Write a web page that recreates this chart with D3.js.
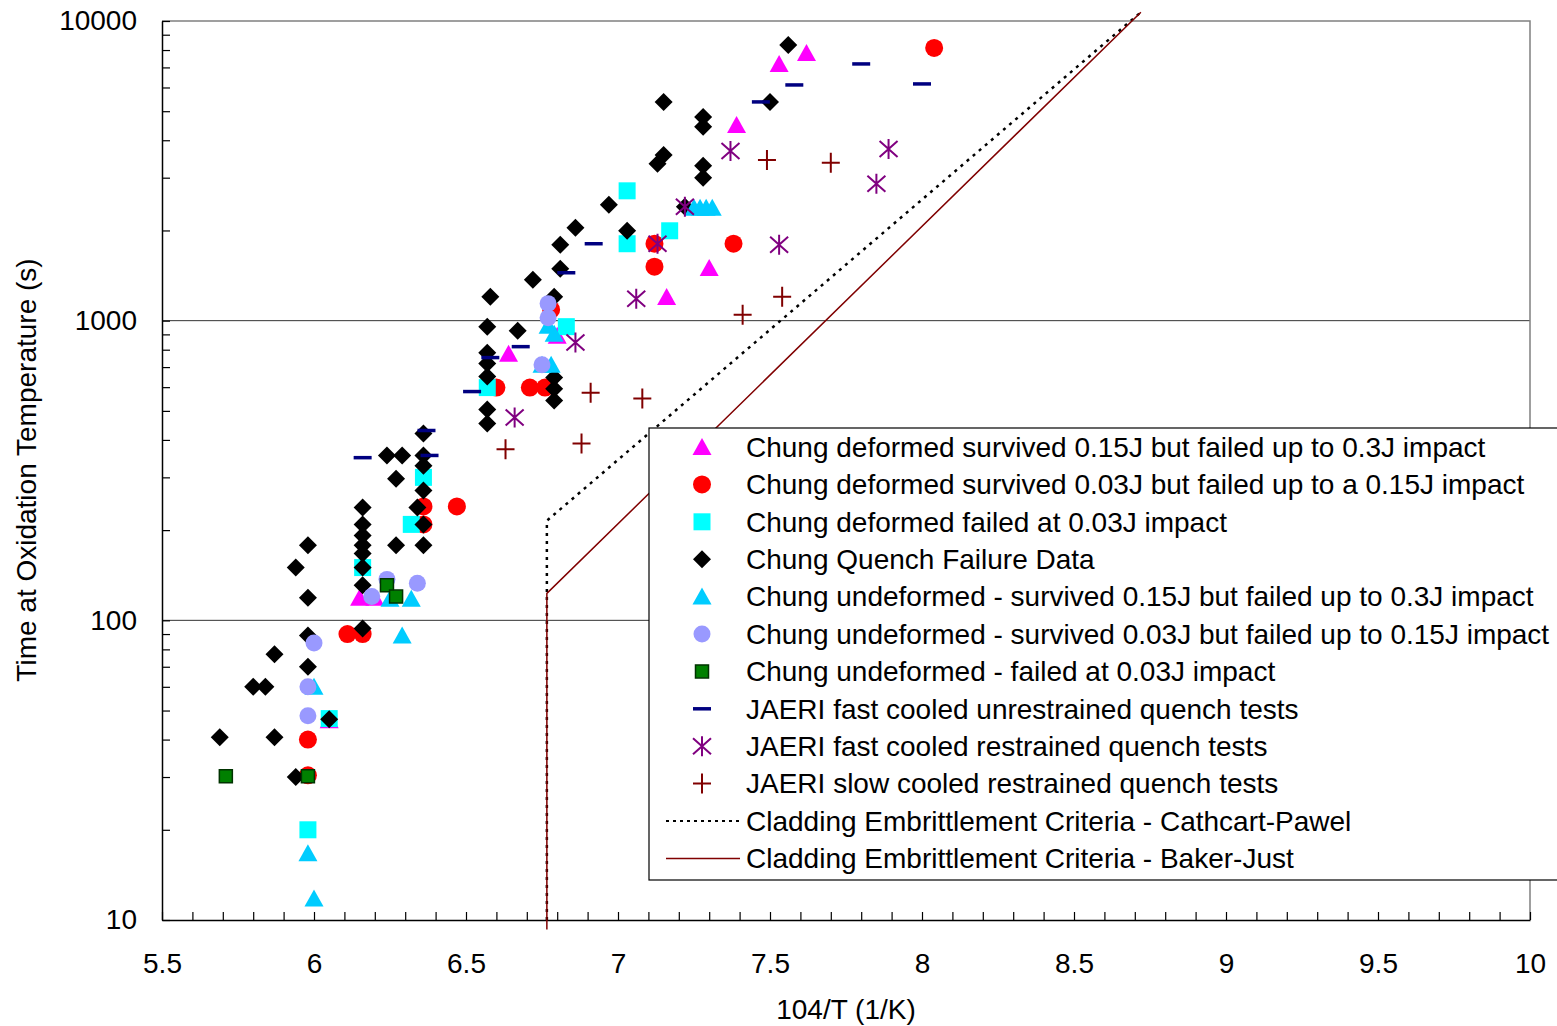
<!DOCTYPE html>
<html>
<head>
<meta charset="utf-8">
<script src="https://cdn.jsdelivr.net/npm/d3@7"></script>
<style>
  html, body { margin: 0; padding: 0; background: #fff; }
  svg text { font-family: "Liberation Sans", Arial, sans-serif; fill: #000; }
</style>
</head>
<body>
<div id="chart"></div>
<script>
// data: [10^4/T, time (s)]
const deformed015 = [[7.53, 7190], [7.62, 7820], [7.39, 4500], [7.30, 1500], [7.16, 1200], [6.64, 776],
  [6.80, 890], [6.15, 119], [6.20, 119], [6.05, 46.4]];
const deformed003 = [[8.04, 8130], [7.38, 1806], [7.12, 1806], [7.12, 1514], [6.78, 1088], [6.60, 598],
  [6.71, 598], [6.76, 598], [6.47, 240], [6.36, 240], [6.36, 209], [6.11, 90], [6.16, 90], [5.98, 40], [5.98, 30.4]];
const deformedFailed = [[7.03, 2712], [7.03, 1806], [7.17, 1995], [6.83, 955], [6.57, 598], [6.36, 300],
  [6.32, 209], [6.16, 150], [6.05, 47], [5.98, 20]];
const quenchFailure = [[7.56, 8318], [7.50, 5370], [7.15, 5370], [7.28, 4786], [7.28, 4434], [7.15, 3573],
  [7.13, 3338], [7.28, 3288], [7.28, 2998], [6.97, 2436], [7.03, 1995], [6.86, 2042], [6.81, 1792],
  [6.81, 1490], [6.72, 1370], [7.22, 2400], [6.58, 1202], [6.79, 1202], [6.57, 955], [6.67, 926],
  [6.57, 782], [6.57, 719], [6.57, 651], [6.57, 505], [6.57, 454], [6.79, 646], [6.79, 593], [6.79, 541],
  [6.36, 420], [6.24, 355], [6.29, 355], [6.36, 355], [6.36, 328], [6.27, 297], [6.36, 271], [6.34, 238],
  [6.36, 209], [6.16, 238], [6.16, 209], [6.16, 192], [6.16, 178], [6.16, 167], [6.16, 150], [6.16, 131],
  [6.27, 178], [6.36, 178], [5.98, 178], [5.94, 150], [5.98, 119], [6.16, 94], [5.98, 89], [5.87, 77],
  [5.98, 70], [5.80, 60], [5.84, 60], [6.05, 46.8], [5.69, 40.7], [5.87, 40.7], [5.94, 30]];
const undeformed015 = [[7.25, 2380], [7.27, 2380], [7.29, 2380], [7.31, 2380], [6.79, 905], [6.77, 962],
  [6.75, 713], [6.78, 713], [6.25, 118], [6.32, 118], [6.29, 89], [6.00, 60], [5.98, 16.7], [6.00, 11.8]];
const undeformed003 = [[6.77, 1140], [6.77, 1023], [6.75, 713], [6.24, 137], [6.34, 133], [6.19, 120],
  [6.00, 84], [5.98, 60], [5.98, 48]];
const undeformedFailed = [[6.24, 131], [6.27, 120], [5.71, 30.2], [5.98, 30.2]];
const jaeriFastUnrestrained = [[7.80, 7190], [8.00, 6166], [7.58, 6118], [7.47, 5370], [6.92, 1806],
  [6.83, 1445], [6.68, 819], [6.58, 753], [6.52, 580], [6.37, 430], [6.38, 355], [6.16, 349]];
const jaeriFastRestrained = [[7.89, 3743], [7.85, 2863], [7.37, 3686], [7.53, 1793], [7.22, 2400],
  [7.13, 1806], [7.06, 1184], [6.86, 845], [6.66, 475]];
const jaeriSlowRestrained = [[7.49, 3440], [7.70, 3364], [7.54, 1202], [7.41, 1047], [7.08, 550],
  [6.91, 575], [6.88, 389], [6.63, 372]];
const cathcartPawel = [[6.766, 10], [6.766, 215], [8.72, 10700]];
const bakerJust = [[6.766, 9.3], [6.766, 123], [8.72, 10700]];

const xTicks = d3.range(55, 101).map(d => d / 10);
const xLabels = [5.5, 6, 6.5, 7, 7.5, 8, 8.5, 9, 9.5, 10];
const yLabels = [10, 100, 1000, 10000];
const gridValues = [100, 1000];

// marker shapes
const shapes = {
  triangle: "M0,-9L9.5,8L-9.5,8Z",
  circle: d3.symbol(d3.symbolCircle, Math.PI * 81)(),
  smallCircle: d3.symbol(d3.symbolCircle, Math.PI * 72)(),
  square: "M-8.5,-8.5H8.5V8.5H-8.5Z",
  diamond: "M0,-9L9,0L0,9L-9,0Z",
  smallSquare: "M-6.5,-6.5H6.5V6.5H-6.5Z",
  dash: "M-9,0H9",
  asterisk: "M0,-10V10M-9,-8L9,8M-9,8L9,-8",
  plus: "M-9,0H9M0,-10V10"
};

const series = [
  { name: "Chung deformed survived 0.15J but failed up to 0.3J impact", data: deformed015, shape: "triangle", fill: "#ff00ff" },
  { name: "Chung deformed survived 0.03J but failed up to a 0.15J impact", data: deformed003, shape: "circle", fill: "#ff0000" },
  { name: "Chung deformed failed at 0.03J impact", data: deformedFailed, shape: "square", fill: "#00ffff" },
  { name: "Chung Quench Failure Data", data: quenchFailure, shape: "diamond", fill: "#000000" },
  { name: "Chung undeformed - survived 0.15J but failed up to 0.3J impact", data: undeformed015, shape: "triangle", fill: "#00ccff" },
  { name: "Chung undeformed - survived 0.03J but failed up to 0.15J impact", data: undeformed003, shape: "smallCircle", fill: "#9999ff" },
  { name: "Chung undeformed - failed at 0.03J impact", data: undeformedFailed, shape: "smallSquare", fill: "#008000", stroke: "#003300", sw: 1.5 },
  { name: "JAERI fast cooled unrestrained quench tests", data: jaeriFastUnrestrained, shape: "dash", fill: "none", stroke: "#000080", sw: 3.5 },
  { name: "JAERI fast cooled restrained quench tests", data: jaeriFastRestrained, shape: "asterisk", fill: "none", stroke: "#800080", sw: 2 },
  { name: "JAERI slow cooled restrained quench tests", data: jaeriSlowRestrained, shape: "plus", fill: "none", stroke: "#800000", sw: 2 }
];
const lines = [
  { name: "Cladding Embrittlement Criteria - Cathcart-Pawel", data: cathcartPawel, stroke: "#000000", dash: "3,5", sw: 2.5 },
  { name: "Cladding Embrittlement Criteria - Baker-Just", data: bakerJust, stroke: "#800000", dash: null, sw: 1.5 }
];

const W = 1557, H = 1026;
const plot = { left: 162, right: 1530, top: 21, bottom: 920 };

const svg = d3.select("#chart").append("svg")
  .attr("width", W)
  .attr("height", H);

const x = d3.scaleLinear().domain([5.5, 10]).range([plot.left, plot.right]);
const y = d3.scaleLog().domain([10, 10000]).range([plot.bottom, plot.top]);

// grid lines and frame
svg.append("g").selectAll("line")
  .data(gridValues)
  .join("line")
  .attr("x1", plot.left).attr("x2", plot.right)
  .attr("y1", d => y(d)).attr("y2", d => y(d))
  .attr("stroke", "#333").attr("stroke-width", 1);

svg.append("path")
  .attr("d", `M${plot.left},${plot.top}H${plot.right}V${plot.bottom}`)
  .attr("fill", "none").attr("stroke", "#808080").attr("stroke-width", 1.5);

// axes, ticks pointing into the plot
const yMinor = [];
[10, 100, 1000].forEach(p => { for (let k = 1; k <= 10; k++) yMinor.push(p * k); });

svg.append("g")
  .attr("transform", `translate(${plot.left},0)`)
  .call(d3.axisLeft(y).tickValues(Array.from(new Set(yMinor))).tickSize(-8).tickSizeOuter(0)
    .tickPadding(25).tickFormat(d => yLabels.includes(d) ? String(d) : ""))
  .call(g => g.selectAll("text").attr("font-size", 28).attr("font-family", null))
  .call(g => g.select(".domain").attr("stroke-width", 1.5))
  .call(g => g.selectAll(".tick line").attr("stroke-width", 1.2));

svg.append("g")
  .attr("transform", `translate(0,${plot.bottom})`)
  .call(d3.axisBottom(x).tickValues(xTicks).tickSize(-8).tickSizeOuter(0)
    .tickPadding(43).tickFormat(d => xLabels.some(v => Math.abs(v - d) < 1e-9) ? d3.format("~g")(d) : ""))
  .call(g => g.selectAll("text").attr("font-size", 28).attr("font-family", null).attr("dy", "0.35em"))
  .call(g => g.select(".domain").attr("stroke-width", 1.5))
  .call(g => g.selectAll(".tick line").attr("stroke-width", 1.2));

// axis titles
svg.append("text")
  .attr("transform", "translate(36,470) rotate(-90)")
  .attr("text-anchor", "middle")
  .attr("font-size", 28)
  .text("Time at Oxidation Temperature (s)");

svg.append("text")
  .attr("x", 846).attr("y", 1019)
  .attr("text-anchor", "middle")
  .attr("font-size", 28)
  .text("104/T (1/K)");

// criteria lines
const lineGen = d3.line().x(d => x(d[0])).y(d => y(d[1]));
svg.append("g").selectAll("path")
  .data(lines)
  .join("path")
  .attr("d", d => lineGen(d.data))
  .attr("fill", "none")
  .attr("stroke", d => d.stroke)
  .attr("stroke-width", d => d.sw)
  .attr("stroke-dasharray", d => d.dash);

// markers
function drawMarker(sel, s) {
  sel.attr("d", shapes[s.shape])
    .attr("fill", s.fill)
    .attr("stroke", s.stroke || "none")
    .attr("stroke-width", s.sw || 0);
}

series.forEach(s => {
  svg.append("g").selectAll("path")
    .data(s.data)
    .join("path")
    .attr("transform", d => `translate(${x(d[0])},${y(d[1])})`)
    .call(drawMarker, s);
});

// legend
const legend = svg.append("g").attr("transform", "translate(649,428)");
legend.append("rect")
  .attr("width", 930).attr("height", 452)
  .attr("fill", "#fff").attr("stroke", "#000").attr("stroke-width", 1.2);

const rowY = i => 19 + i * 37.4;
series.forEach((s, i) => {
  legend.append("path")
    .attr("transform", `translate(53,${rowY(i)})`)
    .call(drawMarker, s);
  legend.append("text")
    .attr("x", 97).attr("y", rowY(i)).attr("dy", "0.35em")
    .attr("font-size", 28)
    .text(s.name);
});
lines.forEach((l, j) => {
  const i = series.length + j;
  legend.append("line")
    .attr("x1", 17).attr("x2", 91)
    .attr("y1", rowY(i)).attr("y2", rowY(i))
    .attr("stroke", l.stroke)
    .attr("stroke-width", l.dash ? 2 : 1.5)
    .attr("stroke-dasharray", l.dash ? "3,4" : null);
  legend.append("text")
    .attr("x", 97).attr("y", rowY(i)).attr("dy", "0.35em")
    .attr("font-size", 28)
    .text(l.name);
});
</script>
</body>
</html>
